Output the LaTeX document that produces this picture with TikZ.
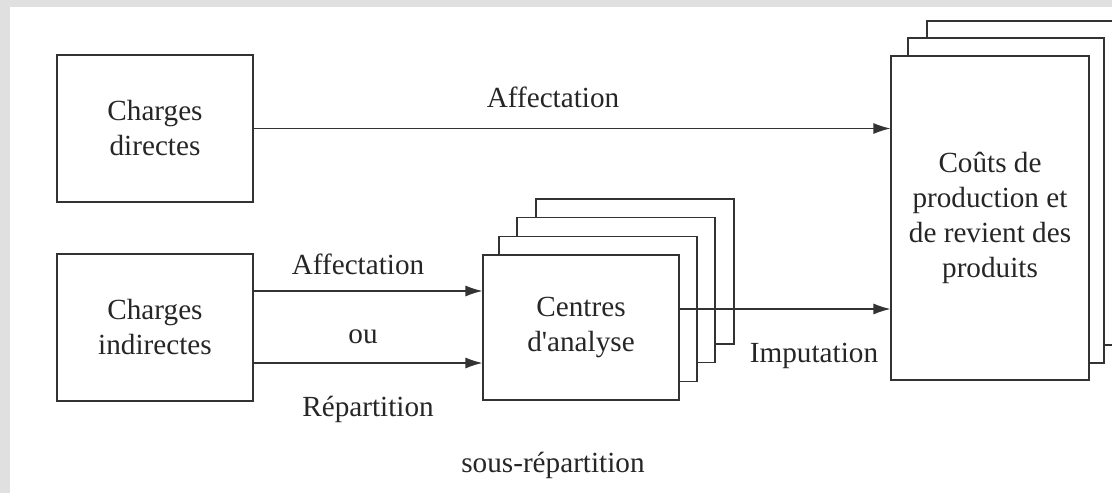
\documentclass[tikz,border=0pt]{standalone}
\usepackage{fontspec}
\setmainfont{Liberation Serif}
\usetikzlibrary{arrows.meta}
\begin{document}
\begin{tikzpicture}[x=0.5pt,y=-0.5pt,
  box/.style={draw=black!80,line width=0.6pt,fill=white,inner sep=0pt,align=center,text=black!85,font=\fontsize{14.6}{17.5}\selectfont},
  lbl/.style={text=black!85,font=\fontsize{14.6}{17.5}\selectfont,inner sep=0pt},
  arr/.style={draw=black!80,line width=0.6pt,-{Latex[length=8.5pt,width=5.5pt]}}]
\useasboundingbox (0,0) rectangle (1112,493);
\clip (0,0) rectangle (1112,493);
\fill[black!12] (0,0) rectangle (1112,493);
\fill[white] (10,7) rectangle (1112,493);
% Charges
\node[box,minimum width=98pt,minimum height=73.5pt] (cd) at (155,128.5) {Charges\\directes};
\node[box,minimum width=98pt,minimum height=73.5pt] (ci) at (155,327.5) {Charges\\indirectes};
% Centres stack
\node[box,minimum width=99pt,minimum height=72.5pt] (ca4) at (635,271.5) {};
\node[box,minimum width=99pt,minimum height=72.5pt] (ca3) at (616,290) {};
\node[box,minimum width=99pt,minimum height=72.5pt] (ca2) at (598,309) {};
\node[box,minimum width=98pt,minimum height=72.5pt] (ca) at (581,327.5) {Centres\\d\textquotesingle analyse};
% Couts stack
\node[box,minimum width=99pt,minimum height=162pt] (cp3) at (1026,183) {};
\node[box,minimum width=98pt,minimum height=162.5pt] (cp2) at (1006,200.5) {};
\node[box,minimum width=99pt,minimum height=162pt] (cp) at (990,218) {Coûts de\\production et\\de revient des\\produits};
% arrows
\draw[arr] (cd.east) -- (cd.east -| cp.west);
\draw[arr] (ci.east |- 0,291) -- (ca.west |- 0,291);
\draw[arr] (ci.east |- 0,363) -- (ca.west |- 0,363);
\draw[arr] (ca.east |- 0,309) -- (cp.west |- 0,309);
% labels
\node[lbl] (l1) at (553,97) {Affectation};
\node[lbl] (l2) at (358,264) {Affectation};
\node[lbl] (l3) at (363,337) {ou};
\node[lbl] (l4) at (368,409) {Répartition};
\node[lbl] (l5) at (814,356) {Imputation};
\node[lbl] (l6) at (553,465) {sous-répartition};
\end{tikzpicture}
\end{document}
